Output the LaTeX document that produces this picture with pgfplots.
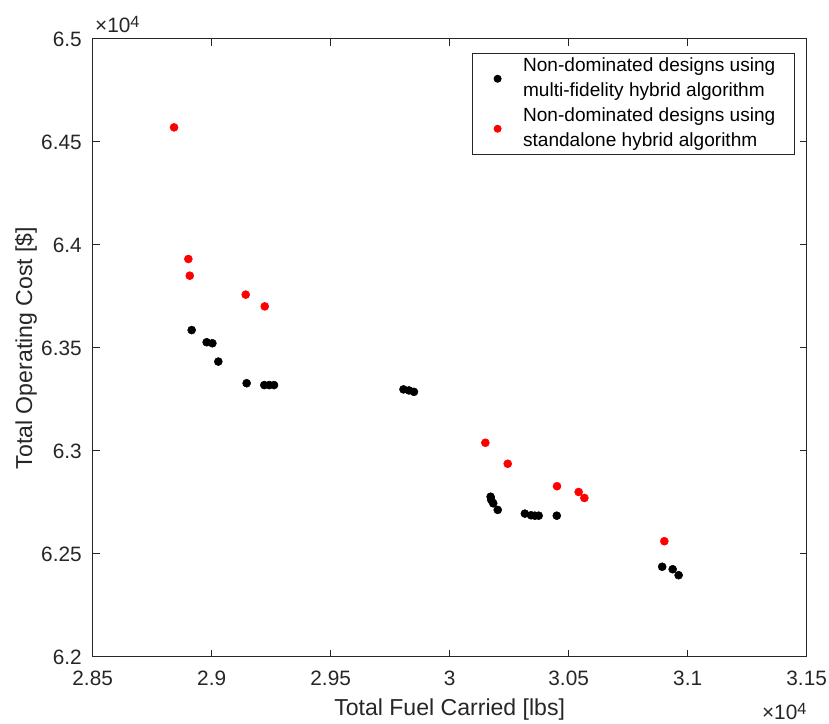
\documentclass[border=0pt]{standalone}
\usepackage{fontspec}
\setmainfont{Liberation Sans}
\usepackage{pgfplots}
\pgfplotsset{compat=1.18}
\definecolor{axgray}{gray}{0.15}
\begin{document}
\begin{tikzpicture}
\useasboundingbox (-69.5pt,-50.25pt) rectangle (552.25pt,492.75pt);
\begin{axis}[
  scale only axis,
  clip mode=individual,
  width=535.5pt, height=463.5pt,
  xmin=28500, xmax=31500, ymin=62000, ymax=65000,
  xtick={28500,29000,...,31500},
  xticklabels={2.85,2.9,2.95,3,3.05,3.1,3.15},
  ytick={62000,62500,...,65000},
  yticklabels={6.2,6.25,6.3,6.35,6.4,6.45,6.5},
  scaled ticks=false,
  axis line style={axgray, line width=0.75pt},
  every tick/.style={axgray, line width=0.75pt},
  major tick length=5.25pt,
  tick align=inside,
  ticklabel style={font=\fontsize{15.6}{18}\selectfont, text=axgray},
  xticklabel style={anchor=base, inner sep=0pt, yshift=-21.75pt},
  yticklabel style={anchor=east, inner sep=0pt, xshift=-8pt},
  xlabel={Total Fuel Carried [lbs]},
  ylabel={Total Operating Cost [\$]},
  label style={font=\fontsize{17.3}{20}\selectfont, text=axgray},
  xlabel style={at={(axis description cs:0.5,-0.0939)}, anchor=base, inner sep=0pt},
  ylabel style={at={(axis description cs:-0.0934,0.5)}, anchor=center, inner sep=0pt},
  legend style={at={(axis description cs:0.983,0.978)}, anchor=north east,
    draw=axgray, line width=0.75pt, inner xsep=0pt, inner ysep=0.5pt,
    font=\fontsize{14.3}{18.75}\selectfont,
    nodes={inner sep=0pt, text depth=}},
  legend cell align=left,
  legend image code/.code={%
    \path (0pt,-2pt) (37.5pt,2pt);
    \draw[#1, mark size=2.6pt] plot coordinates {(18.75pt,0pt)};},
]
\addplot[only marks, mark=*, mark size=3pt, color=black] coordinates {
(28916,63587) (28979,63528) (29003,63523) (29028,63434) (29147,63329)
(29221,63320) (29242,63320) (29262,63320) (29806,63299) (29829,63294)
(29850,63287) (30172,62778) (30175,62762) (30183,62746) (30202,62714)
(30316,62696) (30342,62688) (30358,62686) (30374,62686) (30450,62686)
(30893,62438) (30937,62426) (30962,62397)
};
\addlegendentry{\begin{tabular}{@{}l@{\hspace{14pt}}}Non-dominated designs using\\multi-fidelity hybrid algorithm\end{tabular}}
\addplot[only marks, mark=*, mark size=3pt, color=red] coordinates {
(28842,64571) (28902,63932) (28908,63851) (29143,63759) (29223,63702)
(30150,63040) (30244,62938) (30451,62829) (30542,62801) (30566,62772)
(30902,62562)
};
\addlegendentry{\begin{tabular}{@{}l@{\hspace{14pt}}}Non-dominated designs using\\standalone hybrid algorithm\end{tabular}}
\node[anchor=base west, inner sep=0pt, xshift=1.7pt, yshift=4.5pt, text=axgray,
  font=\fontsize{15.6}{18}\selectfont] at (rel axis cs:0,1)
  {×10\raisebox{3.75pt}{\fontsize{12.2}{12}\selectfont 4}};
\node[anchor=base east, inner sep=0pt, yshift=-47.25pt, text=axgray,
  font=\fontsize{15.6}{18}\selectfont] at (rel axis cs:1,0)
  {×10\raisebox{3.75pt}{\fontsize{12.2}{12}\selectfont 4}};
\end{axis}
\end{tikzpicture}
\end{document}
